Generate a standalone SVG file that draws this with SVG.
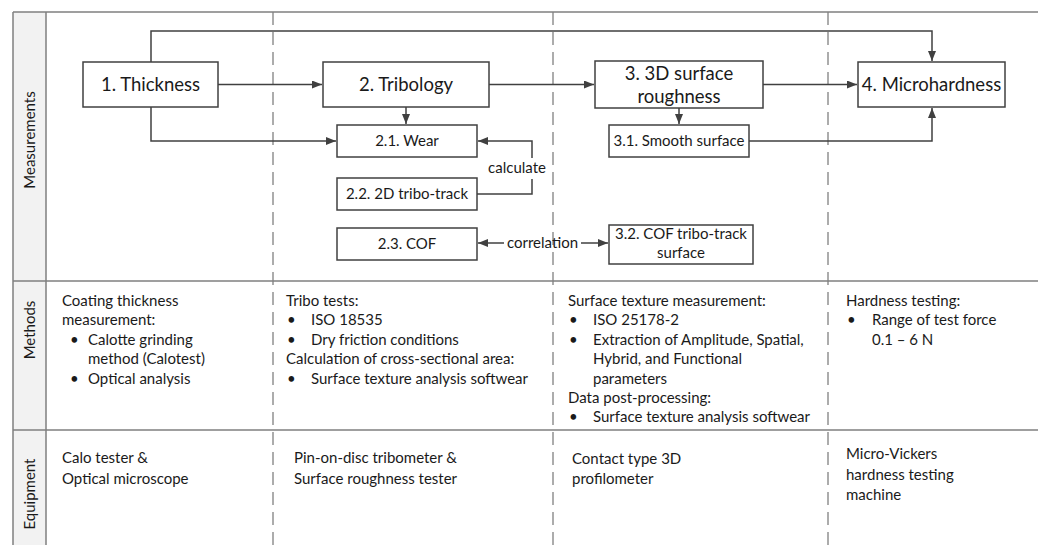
<svg xmlns="http://www.w3.org/2000/svg" width="1038" height="545" viewBox="0 0 1038 545">
<defs>
<marker id="ah" viewBox="0 0 10 8" refX="10" refY="4" markerUnits="userSpaceOnUse" markerWidth="10" markerHeight="8" orient="auto"><path d="M0,0 L10,4 L0,8 z" fill="#404040"/></marker>
<style>
.frame{stroke:#808080;stroke-width:1.5;fill:none}
.dash{stroke:#808080;stroke-width:1.3;stroke-dasharray:13 7;fill:none}
.box{fill:#fff;stroke:#404040;stroke-width:1.5}
.con{fill:none;stroke:#404040;stroke-width:1.5}
text{font-family:Lato,"Open Sans","Liberation Sans",sans-serif;fill:#1a1a1a}
.big{font-size:18.5px;text-anchor:middle}
.sm{font-size:15px;text-anchor:middle}
.txt{font-size:15px}
.hdr{font-size:15px;text-anchor:middle}
</style>
</defs>
<rect x="13" y="12" width="33" height="533" fill="#f2f2f2"/>
<g id="frame">
<path class="frame" d="M13,12 H1038 M13,281 H1038 M13,430 H1038 M13,12 V545 M46,12 V545"/>
<path class="dash" d="M273,12 V545 M553,12 V545 M828,12 V545"/>
</g>
<g id="headers">
<text class="hdr" transform="translate(34.5,140) rotate(-90)">Measurements</text>
<text class="hdr" transform="translate(34.5,330) rotate(-90)">Methods</text>
<text class="hdr" transform="translate(34.5,494) rotate(-90)">Equipment</text>
</g>
<g id="connectors">
<path class="con" d="M151,62 V31 H932 V61" marker-end="url(#ah)"/>
<path class="con" d="M218,84.5 H322" marker-end="url(#ah)"/>
<path class="con" d="M151,107 V141 H336" marker-end="url(#ah)"/>
<path class="con" d="M406,107 V124" marker-end="url(#ah)"/>
<path class="con" d="M489,84.5 H594" marker-end="url(#ah)"/>
<path class="con" d="M679,108 V124" marker-end="url(#ah)"/>
<path class="con" d="M763,84.5 H857" marker-end="url(#ah)"/>
<path class="con" d="M749,141 H932 V108" marker-end="url(#ah)"/>
<path class="con" d="M477,194 H532 V179"/>
<path class="con" d="M532,158 V141 H478" marker-end="url(#ah)"/>
<text class="sm" x="517" y="173">calculate</text>
<path class="con" d="M504,243 H478" marker-end="url(#ah)"/>
<path class="con" d="M581,243 H608" marker-end="url(#ah)"/>
<text class="sm" x="542.5" y="248">correlation</text>
</g>
<g id="n1"><rect class="box" x="83" y="62" width="135" height="45"/><text class="big" x="150.5" y="91">1. Thickness</text></g>
<g id="n2"><rect class="box" x="323" y="62" width="166" height="45"/><text class="big" x="406" y="91">2. Tribology</text></g>
<g id="n3"><rect class="box" x="595" y="61" width="168" height="47"/><text class="big" x="679" y="79.5">3. 3D surface</text><text class="big" x="679" y="103">roughness</text></g>
<g id="n4"><rect class="box" x="858" y="62" width="147" height="45"/><text class="big" x="931.5" y="91">4. Microhardness</text></g>
<g id="n21"><rect class="box" x="337" y="125" width="140" height="32"/><text class="sm" x="407" y="146">2.1. Wear</text></g>
<g id="n22"><rect class="box" x="337" y="178" width="140" height="32"/><text class="sm" x="407" y="199">2.2. 2D tribo-track</text></g>
<g id="n23"><rect class="box" x="337" y="228" width="140" height="32"/><text class="sm" x="407" y="249">2.3. COF</text></g>
<g id="n31"><rect class="box" x="609" y="125" width="140" height="32"/><text class="sm" x="679" y="146">3.1. Smooth surface</text></g>
<g id="n32"><rect class="box" x="609" y="225" width="144" height="39"/><text class="sm" x="681" y="239">3.2. COF tribo-track</text><text class="sm" x="681" y="258">surface</text></g>
<g id="methods">
<text class="txt" x="62" y="306">Coating thickness</text>
<text class="txt" x="62" y="325.4">measurement:</text>
<text class="txt" x="70" y="344.8">•</text><text class="txt" x="88" y="344.8">Calotte grinding</text>
<text class="txt" x="88" y="364.2">method (Calotest)</text>
<text class="txt" x="70" y="383.6">•</text><text class="txt" x="88" y="383.6">Optical analysis</text>
<text class="txt" x="286" y="306">Tribo tests:</text>
<text class="txt" x="287" y="325.4">•</text><text class="txt" x="311" y="325.4">ISO 18535</text>
<text class="txt" x="287" y="344.8">•</text><text class="txt" x="311" y="344.8">Dry friction conditions</text>
<text class="txt" x="286" y="364.2">Calculation of cross-sectional area:</text>
<text class="txt" x="287" y="383.6">•</text><text class="txt" x="311" y="383.6">Surface texture analysis softwear</text>
<text class="txt" x="568" y="306">Surface texture measurement:</text>
<text class="txt" x="569" y="325.4">•</text><text class="txt" x="593" y="325.4">ISO 25178-2</text>
<text class="txt" x="569" y="344.8">•</text><text class="txt" x="593" y="344.8">Extraction of Amplitude, Spatial,</text>
<text class="txt" x="593" y="364.2">Hybrid, and Functional</text>
<text class="txt" x="593" y="383.6">parameters</text>
<text class="txt" x="568" y="403">Data post-processing:</text>
<text class="txt" x="569" y="422.4">•</text><text class="txt" x="593" y="422.4">Surface texture analysis softwear</text>
<text class="txt" x="846" y="306">Hardness testing:</text>
<text class="txt" x="847" y="325.4">•</text><text class="txt" x="872" y="325.4">Range of test force</text>
<text class="txt" x="872" y="344.8">0.1 – 6 N</text>
</g>
<g id="equipment">
<text class="txt" x="62" y="463">Calo tester &amp;</text>
<text class="txt" x="62" y="484">Optical microscope</text>
<text class="txt" x="294" y="463">Pin-on-disc tribometer &amp;</text>
<text class="txt" x="294" y="484">Surface roughness tester</text>
<text class="txt" x="572" y="463.5">Contact type 3D</text>
<text class="txt" x="572" y="484">profilometer</text>
<text class="txt" x="846" y="459">Micro-Vickers</text>
<text class="txt" x="846" y="479.5">hardness testing</text>
<text class="txt" x="846" y="500">machine</text>
</g>
</svg>
